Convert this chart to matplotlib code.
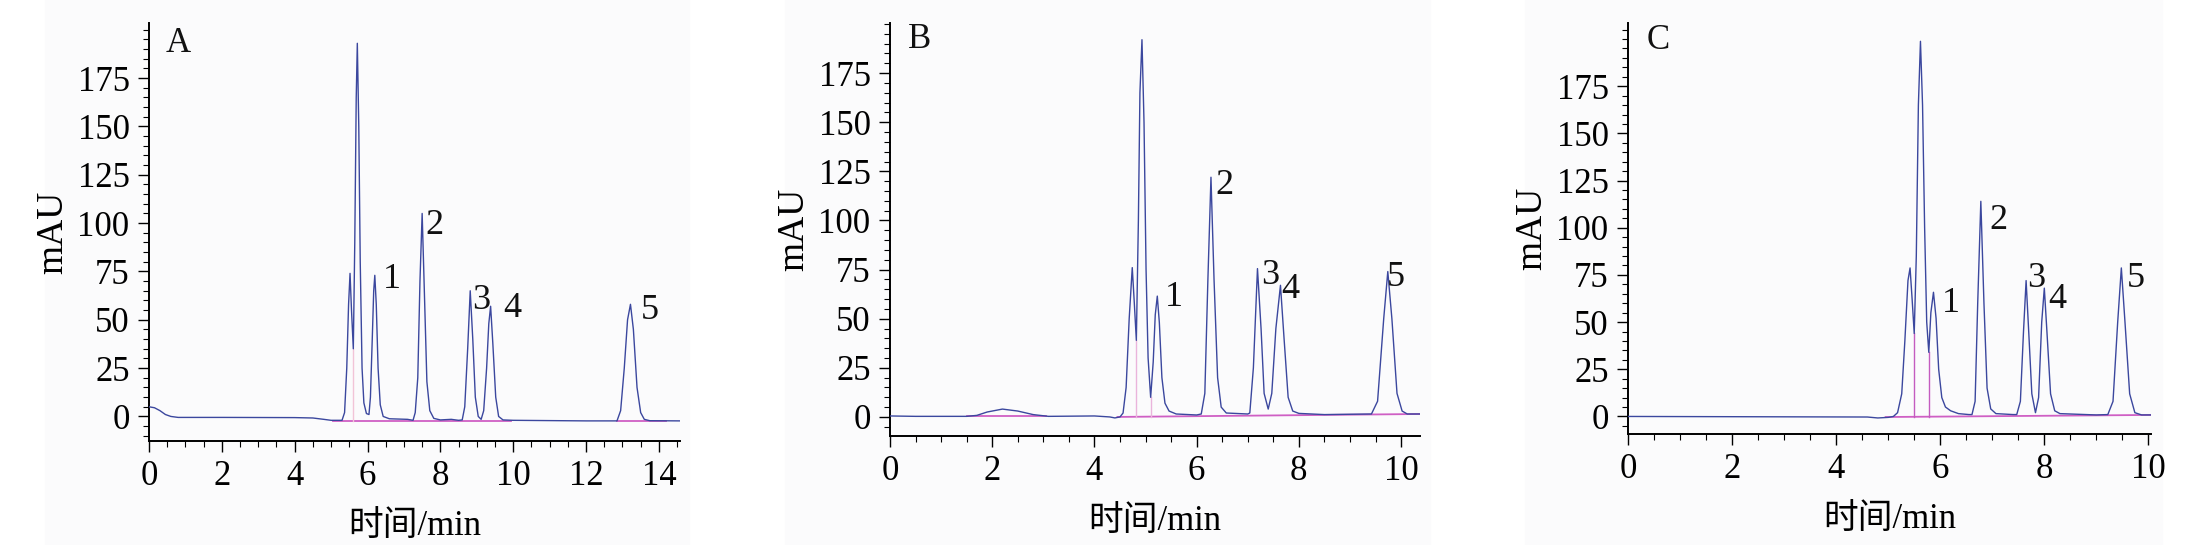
import matplotlib
matplotlib.use("Agg")
import matplotlib.pyplot as plt
from matplotlib.ticker import MultipleLocator, FixedLocator
from matplotlib.patches import Rectangle

plt.rcParams['font.family'] = ['Liberation Serif', 'Noto Sans CJK SC']

# --- chromatogram A (time in min, signal in mAU)
a_time = [0.0, 0.15, 0.3, 0.45, 0.6, 0.8, 2.0, 4.0, 4.5, 4.8, 5.0, 5.30,
          5.37, 5.43, 5.48, 5.52, 5.56, 5.61, 5.65, 5.69, 5.72, 5.76, 5.80, 5.85, 5.90, 5.97,
          6.04, 6.08, 6.13, 6.17, 6.20, 6.24, 6.29, 6.35, 6.43, 6.6, 7.1, 7.25,
          7.31, 7.38, 7.44, 7.50, 7.56, 7.63, 7.71, 7.82, 8.0, 8.3, 8.5, 8.60,
          8.67, 8.75, 8.82, 8.89, 8.96, 9.04, 9.12, 9.19, 9.27, 9.33, 9.38, 9.44, 9.52, 9.60,
          9.72, 10.0, 12.0, 12.85, 12.95, 13.05, 13.14, 13.22, 13.30, 13.40, 13.50, 13.60,
          13.75, 14.58]
a_mau = [5, 4.5, 3, 1, 0, -0.5, -0.5, -0.6, -0.8, -1.5, -2.0, -2.0,
         2, 25, 58, 74, 55, 35, 90, 165, 193, 150, 80, 25, 7, 1.5,
         1, 10, 40, 65, 73, 58, 25, 6, 0, -1.2, -1.5, -2,
         2, 20, 70, 105, 65, 18, 3, -1, -1.8, -1.5, -2, -1.8,
         5, 35, 65, 40, 10, 0, -1.5, 3, 25, 48, 57, 38, 10, 0,
         -1.8, -2, -2.3, -2.3, 3, 25, 50, 58, 45, 15, 2, -1.5,
         -2.2, -2.3]
a_base = [([5.05, 9.95], [-2.2, -2.2]), ([12.85, 14.2], [-2.3, -2.3])]
a_drop_t = [5.61]
a_drop_y = [35]

# --- chromatogram B
b_time = [0.0, 0.5, 1.5, 1.7, 1.9, 2.2, 2.5, 2.8, 3.1, 4.0, 4.3, 4.4, 4.5,
          4.56, 4.62, 4.68, 4.74, 4.78, 4.82, 4.86, 4.89, 4.93, 4.97, 5.01, 5.05, 5.10,
          5.15, 5.19, 5.23, 5.27, 5.32, 5.38, 5.46, 5.6, 6.0,
          6.09, 6.16, 6.22, 6.28, 6.34, 6.41, 6.48, 6.58, 7.0,
          7.04, 7.11, 7.19, 7.26, 7.32, 7.40, 7.47, 7.55, 7.64, 7.71, 7.79, 7.88, 8.0,
          8.5, 9.42, 9.54, 9.66, 9.74, 9.82, 9.92, 10.02, 10.12, 10.37]
b_mau = [0.5, 0.3, 0.3, 0.8, 2.5, 4, 3, 1.2, 0.3, 0.5, 0, -0.5, 0,
         2, 15, 50, 76, 58, 39, 100, 165, 192, 150, 75, 30, 10,
         28, 52, 61.5, 48, 20, 7, 3, 1.5, 1,
         1.5, 12, 70, 122, 70, 20, 5, 2, 1.5,
         2, 25, 75.5, 45, 12, 4, 12, 45, 67, 40, 10, 3, 1.8,
         1.2, 1.5, 8, 50, 74, 50, 12, 3, 1.5, 1.5]
b_base = [([1.5, 3.05], [0.3, 0.3]), ([4.45, 10.37], [0.0, 1.5])]
b_drop_t = [4.82, 5.10]
b_drop_y = [39, 10]

# --- chromatogram C
c_time = [0.0, 4.6, 4.8, 5.0, 5.10,
          5.18, 5.26, 5.32, 5.38, 5.42, 5.46, 5.50, 5.54, 5.58, 5.62, 5.66, 5.70, 5.74, 5.78,
          5.82, 5.87, 5.92, 5.97, 6.03, 6.10, 6.20, 6.35, 6.55,
          6.61, 6.67, 6.72, 6.78, 6.84, 6.90, 6.97, 7.07, 7.4,
          7.47, 7.54, 7.60, 7.65, 7.70, 7.76, 7.83, 7.89, 7.95, 8.00, 8.05, 8.12, 8.20, 8.3,
          9.0, 9.22, 9.32, 9.41, 9.48, 9.55, 9.64, 9.74, 9.87, 10.05]
c_mau = [0, -0.3, -0.8, -0.5, 0,
         2, 12, 40, 72, 78.7, 62, 44, 85, 165, 198.8, 165, 100, 50, 34,
         55, 65.8, 52, 25, 10, 5, 3, 1.5, 1,
         1, 8, 60, 114, 60, 15, 4, 1.5, 1,
         1, 8, 45, 72, 45, 12, 2, 10, 50, 68, 45, 12, 3, 1.5,
         0.8, 1, 8, 50, 78.7, 50, 12, 2, 0.8, 0.8]
c_base = [([4.95, 10.05], [-0.3, 0.8])]
c_drop_t = [5.50, 5.78]
c_drop_y = [44, 34]

panel_letters = ['A', 'B', 'C']
peak_names = ['1', '2', '3', '4', '5']
a_label_t = [6.66, 7.85, 9.12, 9.98, 13.75]
a_label_y = [71, 99, 60, 56, 55]
b_label_t = [5.56, 6.54, 7.44, 7.83, 9.89]
b_label_y = [61, 118, 72, 65, 71]
c_label_t = [6.21, 7.11, 7.85, 8.25, 9.75]
c_label_y = [60, 104, 73, 62, 73]

TRACE = '#3b479e'
PINK = '#cf5fc4'

W, H = 2208, 545
fig = plt.figure(figsize=(W / 100, H / 100), dpi=100)
fig.patch.set_facecolor('white')

# very light grey panel backgrounds (pixel boxes)
for x0, x1 in [(45, 689), (785, 1430), (1525, 2162)]:
    fig.patches.append(Rectangle((x0 / W, 0.0), (x1 - x0) / W, 1.0,
                                 transform=fig.transFigure, color='#fbfbfc', zorder=-10))


def px_rect(left, right, top, bottom):
    return [left / W, 1 - bottom / H, (right - left) / W, (bottom - top) / H]


panels = [
    dict(t=a_time, y=a_mau, base=a_base, dt=a_drop_t, dy=a_drop_y, lt=a_label_t, ly=a_label_y,
         rect=px_rect(149, 680, 23, 441), xlim=(0, 14.58), ylim=(-12.7, 203.5), xmaj=range(0, 15, 2),
         letter=(0.45, 193), dropc='#f2c4d8'),
    dict(t=b_time, y=b_mau, base=b_base, dt=b_drop_t, dy=b_drop_y, lt=b_label_t, ly=b_label_y,
         rect=px_rect(890, 1420, 23, 436), xlim=(0, 10.37), ylim=(-9.7, 200.5), xmaj=range(0, 11, 2),
         letter=(0.35, 192), dropc='#eab4dc'),
    dict(t=c_time, y=c_mau, base=c_base, dt=c_drop_t, dy=c_drop_y, lt=c_label_t, ly=c_label_y,
         rect=px_rect(1628, 2151, 23, 434), xlim=(0, 10.05), ylim=(-9.3, 208.5), xmaj=range(0, 11, 2),
         letter=(0.35, 199), dropc='#c45cc0'),
]

for letter, p in zip(panel_letters, panels):
    ax = fig.add_axes(p['rect'])
    ax.set_facecolor('none')
    for seg_t, seg_y in p['base']:
        ax.plot(seg_t, seg_y, color=PINK, lw=1.3, zorder=2)
    for t, y in zip(p['dt'], p['dy']):
        ax.plot([t, t], [p['base'][-1][1][0], y], color=p['dropc'], lw=1.0, zorder=2)
    ax.plot(p['t'], p['y'], color=TRACE, lw=1.0, zorder=3)

    for name, t, y in zip(peak_names, p['lt'], p['ly']):
        ax.text(t, y, name, fontsize=26, ha='center', va='center', color='#111111')
    ax.text(p['letter'][0], p['letter'][1], letter, fontsize=25, ha='left', va='center',
            color='#111111')

    ax.set_xlim(*p['xlim'])
    ax.set_ylim(*p['ylim'])
    ax.xaxis.set_major_locator(FixedLocator(list(p['xmaj'])))
    ax.xaxis.set_minor_locator(MultipleLocator(0.5))
    ax.yaxis.set_major_locator(FixedLocator([0, 25, 50, 75, 100, 125, 150, 175]))
    ax.yaxis.set_minor_locator(MultipleLocator(5))
    ax.tick_params(which='major', direction='out', length=8, width=1.0, labelsize=25, pad=6)
    ax.tick_params(which='minor', direction='out', length=4, width=0.8)
    for s in ['top', 'right']:
        ax.spines[s].set_visible(False)
    for s in ['left', 'bottom']:
        ax.spines[s].set_linewidth(1.4)
    ax.set_ylabel('mAU', fontsize=27, labelpad=5)
    ax.set_xlabel('时间/min', fontsize=25, labelpad=12)

fig.savefig('out.png', dpi=100)
